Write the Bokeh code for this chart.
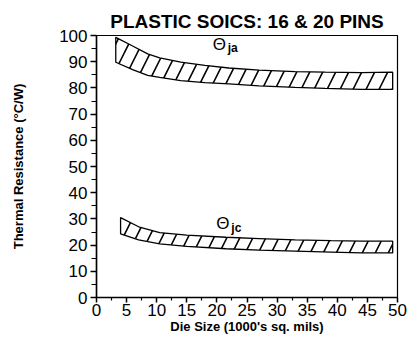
from bokeh.plotting import figure
from bokeh.embed import file_html
from bokeh.resources import INLINE
from bokeh.models import Range1d, FixedTicker, Label

# Data
ja_x = [3.2, 6.0, 8.5, 10.5, 14.0, 18.0, 22.0, 27.0, 33.0, 38.0, 44.0, 49.2]
ja_upper = [99.3, 96.0, 93.0, 91.5, 89.8, 88.6, 87.6, 86.8, 86.2, 86.0, 85.8, 86.0]
ja_lower = [89.8, 87.0, 84.8, 84.0, 82.8, 82.0, 81.5, 80.8, 80.2, 79.8, 79.4, 79.4]

jc_x = [4.0, 7.0, 10.5, 15.0, 21.5, 27.0, 33.0, 39.0, 44.0, 49.2]
jc_upper = [30.5, 27.0, 24.8, 23.8, 23.0, 22.5, 22.0, 21.7, 21.5, 21.5]
jc_lower = [24.3, 22.0, 20.5, 19.5, 18.6, 18.1, 17.7, 17.3, 17.0, 17.0]

x_ticks = [0, 5, 10, 15, 20, 25, 30, 35, 40, 45, 50]
y_ticks = [0, 10, 20, 30, 40, 50, 60, 70, 80, 90, 100]

title_text = "PLASTIC SOICS: 16 & 20 PINS"
x_label = "Die Size (1000's sq. mils)"
y_label = "Thermal Resistance (°C/W)"

FONT = "Liberation Sans"

p = figure(width=413, height=345, output_backend="svg", toolbar_location=None,
           x_range=Range1d(0, 50), y_range=Range1d(0, 100),
           min_border_left=96, min_border_right=16, min_border_top=35,
           min_border_bottom=48, title=title_text)
p.frame_width = 301
p.frame_height = 262

p.title.text_font = FONT
p.title.text_font_size = "19px"
p.title.text_font_style = "bold"
p.title.text_color = "black"
p.title.align = "center"
p.title.offset = 0
p.title.standoff = 7

p.xgrid.visible = False
p.ygrid.visible = False
p.outline_line_color = "black"
p.outline_line_width = 1.2
p.background_fill_color = "white"
p.border_fill_color = "white"

for ax in (p.xaxis[0], p.yaxis[0]):
    ax.axis_line_color = "black"
    ax.axis_line_width = 1.5
    ax.major_tick_line_color = "black"
    ax.minor_tick_line_color = "black"
    ax.major_tick_line_width = 1.5
    ax.minor_tick_line_width = 1.2
    ax.major_label_text_font = FONT
    ax.major_label_text_font_size = "17px"
    ax.major_label_text_color = "black"
    ax.axis_label_text_font = FONT
    ax.axis_label_text_font_size = "13px"
    ax.axis_label_text_font_style = "bold"
    ax.axis_label_text_color = "black"

p.xaxis.ticker = FixedTicker(ticks=x_ticks, minor_ticks=[v + 2.5 for v in x_ticks[:-1]])
p.yaxis.ticker = FixedTicker(ticks=y_ticks, minor_ticks=[v + 5 for v in y_ticks[:-1]])
p.xaxis.major_tick_in = 0
p.xaxis.major_tick_out = 5
p.xaxis.minor_tick_in = 0
p.xaxis.minor_tick_out = 3
p.yaxis.major_tick_in = 0
p.yaxis.major_tick_out = 6
p.yaxis.minor_tick_in = 0
p.yaxis.minor_tick_out = 5
p.xaxis.major_label_standoff = 1
p.yaxis.major_label_standoff = 3
p.xaxis.axis_label = x_label
p.yaxis.axis_label = y_label
p.xaxis.axis_label_standoff = 0
p.yaxis.axis_label_standoff = 30

def band(xs, up, lo):
    px = list(xs) + list(reversed(xs))
    py = list(up) + list(reversed(lo))
    p.patch(px, py, fill_color="white", line_color="black", line_width=1.3,
            hatch_pattern="/", hatch_scale=26, hatch_weight=1.6, hatch_color="black")

band(ja_x, ja_upper, ja_lower)
band(jc_x, jc_upper, jc_lower)

# Labels
p.add_layout(Label(x=19.3, y=93.0, text="Θ", text_font=FONT, text_font_size="17px",
                   text_color="black"))
p.add_layout(Label(x=21.8, y=92.4, text="ja", text_font=FONT, text_font_size="12px",
                   text_font_style="bold", text_color="black"))
p.add_layout(Label(x=19.9, y=24.6, text="Θ", text_font=FONT, text_font_size="17px",
                   text_color="black"))
p.add_layout(Label(x=22.4, y=24.0, text="jc", text_font=FONT, text_font_size="12px",
                   text_font_style="bold", text_color="black"))

open("out.html", "w").write(file_html(p, INLINE))
